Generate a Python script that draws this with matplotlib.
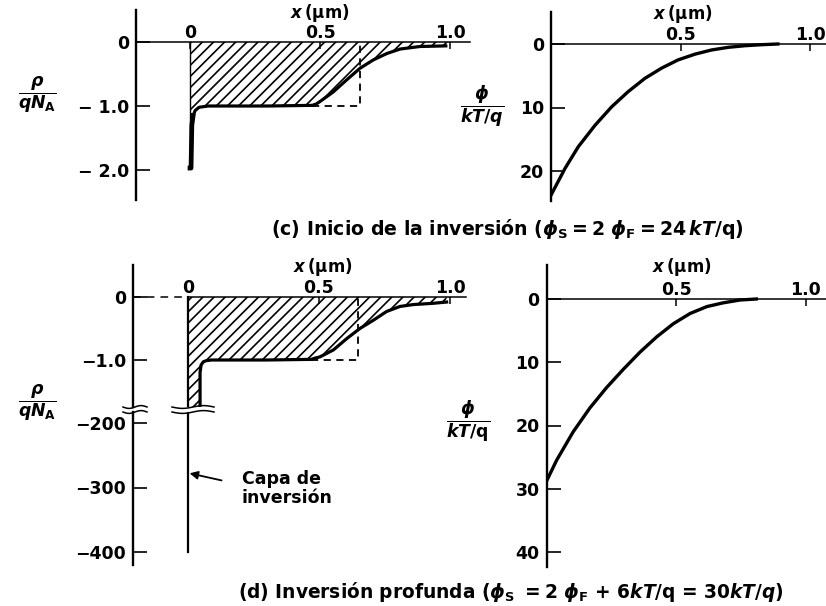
import numpy as np
import matplotlib
matplotlib.use("Agg")
import matplotlib.pyplot as plt
from matplotlib.lines import Line2D

plt.rcParams.update({
    "font.family": "DejaVu Sans",
    "font.weight": "bold",
    "mathtext.fontset": "custom",
    "mathtext.rm": "DejaVu Sans:bold",
    "mathtext.it": "DejaVu Sans:italic:bold",
    "mathtext.bf": "DejaVu Sans:bold",
    "mathtext.sf": "DejaVu Sans:bold",
    "hatch.linewidth": 1.2,
    "axes.linewidth": 1.7,
})

# ---------------- data ----------------
# (c) onset of inversion: normalized charge density rho/qN_A vs depth x (um)
x_rho_c = [0.0, 0.004, 0.007, 0.012, 0.02, 0.035, 0.07, 0.30, 0.47, 0.485, 0.50,
           0.551, 0.603, 0.654, 0.705, 0.757, 0.808, 0.885, 0.94, 0.99]
rho_c = [-1.97, -1.97, -1.30, -1.15, -1.07, -1.02, -1.0, -1.0, -0.99, -0.97, -0.93,
         -0.78, -0.59, -0.41, -0.28, -0.18, -0.11, -0.07, -0.065, -0.06]
w_dep_c = 0.654          # depletion-approximation edge (um)

# (c) normalized potential phi/(kT/q)
x_phi_c = [0.0, 0.054, 0.105, 0.17, 0.234, 0.298, 0.363, 0.427, 0.491, 0.556,
           0.62, 0.685, 0.749, 0.813, 0.876]
phi_c = [23.8, 19.6, 16.2, 12.8, 9.9, 7.5, 5.4, 3.8, 2.5, 1.6,
         0.94, 0.52, 0.27, 0.11, 0.0]

# (d) strong inversion: charge density (inversion layer off-scale near x = 0)
inv_layer_peak_d = -400.0
x_rho_d = [0.0, 0.046, 0.046, 0.05, 0.058, 0.07, 0.09, 0.30, 0.47, 0.485, 0.504,
           0.555, 0.606, 0.656, 0.707, 0.758, 0.809, 0.86, 0.936, 0.987]
rho_d = [inv_layer_peak_d, inv_layer_peak_d, -1.2, -1.08, -1.03, -1.01, -1.0, -1.0,
         -0.99, -0.97, -0.95, -0.84, -0.66, -0.50, -0.37, -0.23, -0.15, -0.12,
         -0.10, -0.08]
w_dep_d = 0.65

# (d) normalized potential
x_phi_d = [0.0, 0.039, 0.103, 0.168, 0.232, 0.297, 0.361, 0.425, 0.49, 0.554,
           0.619, 0.683, 0.747, 0.81]
phi_d = [28.8, 25.5, 21.0, 17.2, 14.0, 11.1, 8.4, 6.0, 3.9, 2.3,
         1.2, 0.6, 0.16, 0.0]

x_ticks_rho = [0.0, 0.5, 1.0]
x_labels_rho = ["0", "0.5", "1.0"]
x_ticks_phi = [0.5, 1.0]
x_labels_phi = ["0.5", "1.0"]

y_ticks_rho_c = [0.0, -1.0, -2.0]
y_labels_rho_c = ["0", "\u2212 1.0", "\u2212 2.0"]
y_ticks_phi_c = [0, 10, 20]
y_ticks_rho_d_top = [0.0, -1.0]
y_labels_rho_d_top = ["0", "\u22121.0"]
y_ticks_rho_d_bot = [-200, -300, -400]
y_labels_rho_d_bot = ["\u2212200", "\u2212300", "\u2212400"]
y_ticks_phi_d = [0, 10, 20, 30, 40]

caption_c = r"(c) Inicio de la inversión ($\phi_\mathrm{S} = 2\ \phi_\mathrm{F} = 24\,kT/$q)"
caption_d = (r"(d) Inversión profunda ($\phi_\mathrm{S}\ = 2\ \phi_\mathrm{F}$ + 6$kT$/q"
             r" = 30$kT/q$)")
x_label = r"$x\,$(μm)"
rho_label = r"$\dfrac{\rho}{qN_\mathrm{A}}$"
phi_label_c = r"$\dfrac{\phi}{kT/q}$"
phi_label_d = r"$\dfrac{\phi}{kT/\mathrm{q}}$"
inv_note = "Capa de\ninversión"

# ---------------- layout helpers (pixel geometry) ----------------
W, H = 826, 606
fig = plt.figure(figsize=(W / 100, H / 100), dpi=100)
FS = 12.5


def add_axes_px(x0, y0, x1, y1):
    return fig.add_axes([x0 / W, 1 - y1 / H, (x1 - x0) / W, (y1 - y0) / H])


def lims(p0, p1, origin_px, px_per_unit):
    return (p0 - origin_px) / px_per_unit, (p1 - origin_px) / px_per_unit


def style_axes(ax, xticks, xlabels, yticks, ylabels, show_x=True):
    for s in ("right", "bottom"):
        ax.spines[s].set_visible(False)
    if show_x:
        ax.spines["top"].set_position(("data", 0))
        ax.spines["top"].set_linewidth(1.1)
        ax.xaxis.set_ticks_position("top")
        ax.set_xticks(xticks)
        ax.set_xticklabels(xlabels, fontsize=FS, fontweight="bold")
        ax.tick_params(axis="x", direction="in", length=5, width=1.1, pad=0)
    else:
        ax.spines["top"].set_visible(False)
        ax.set_xticks([])
    ax.set_yticks(yticks)
    ax.set_yticklabels(ylabels, fontsize=FS, fontweight="bold")
    ax.tick_params(axis="y", direction="in", length=10, width=1.2, pad=5)
    ax.patch.set_alpha(0)


def px_text(x, y, s, **kw):
    fig.text(x / W, 1 - y / H, s, **kw)


def px_line(xs, ys, **kw):
    fig.add_artist(Line2D(np.asarray(xs) / W, 1 - np.asarray(ys) / H,
                          transform=fig.transFigure, color="black", **kw))


def break_mark(xc, yc, half):
    t = np.linspace(-1, 1, 40)
    px_line(xc + half * t, yc - 1.4 * np.sin(np.pi * t), lw=1.1)


# ---------------- (c) left: charge density ----------------
ax = add_axes_px(136, 10, 470, 200)
ax.set_xlim(*lims(136, 470, 190, 260))
ax.set_ylim(-(200 - 42) / 64, (42 - 10) / 64)
style_axes(ax, x_ticks_rho, x_labels_rho, y_ticks_rho_c, y_labels_rho_c)
ax.fill_between(x_rho_c, rho_c, 0, facecolor="none", edgecolor="black",
                hatch="///", linewidth=0)
ax.plot(x_rho_c, rho_c, color="black", lw=2.3, solid_capstyle="butt")
ax.plot(x_rho_c[:4], rho_c[:4], color="black", lw=3.4)
ax.plot([0, 0], [0, rho_c[0]], color="black", lw=1.0)
ax.plot([0.47, w_dep_c, w_dep_c], [-1.0, -1.0, 0.0], color="black", lw=1.3,
        ls=(0, (4, 3)))

# ---------------- (c) right: potential ----------------
ax = add_axes_px(551, 12, 826, 201)
ax.set_xlim(*lims(551, 826, 551, 259))
ax.set_ylim((201 - 44) / 6.35, -(44 - 12) / 6.35)
style_axes(ax, x_ticks_phi, x_labels_phi, y_ticks_phi_c,
           [str(v) for v in y_ticks_phi_c])
ax.plot(x_phi_c, phi_c, color="black", lw=2.4)

# ---------------- (d) left: charge density with broken axis ----------------
axt = add_axes_px(133, 265, 466, 407)
xl_d = lims(133, 466, 188, 262)
axt.set_xlim(*xl_d)
axt.set_ylim(-(407 - 297) / 63, (297 - 265) / 63)
style_axes(axt, x_ticks_rho, x_labels_rho, y_ticks_rho_d_top, y_labels_rho_d_top)
axt.spines["top"].set_bounds(0, xl_d[1])
axt.plot([xl_d[0], 0], [0, 0], color="black", lw=1.1, ls=(0, (5, 4)), clip_on=False)
axt.fill_between(x_rho_d, rho_d, 0, facecolor="none", edgecolor="black",
                 hatch="///", linewidth=0)
axt.plot(x_rho_d[1:], rho_d[1:], color="black", lw=2.3)
axt.plot([0, 0], [0, inv_layer_peak_d], color="black", lw=1.6)
axt.plot([0.47, w_dep_d, w_dep_d], [-1.0, -1.0, 0.0], color="black", lw=1.3,
         ls=(0, (4, 3)))

axb = add_axes_px(133, 412, 466, 565)
axb.set_xlim(*xl_d)
axb.set_ylim(-400 - (565 - 552) / 0.645, -200 + (423 - 412) / 0.645)
style_axes(axb, [], [], y_ticks_rho_d_bot, y_labels_rho_d_bot, show_x=False)
axb.plot([0, 0], [axb.get_ylim()[1], inv_layer_peak_d], color="black", lw=1.6)
axb.annotate("", xy=(0.006, -278), xytext=(0.128, -289),
             arrowprops=dict(arrowstyle="-|>", lw=1.3, color="black",
                             mutation_scale=12, shrinkA=0, shrinkB=0))
axb.text(0.206, -302, inv_note, fontsize=FS, fontweight="bold", ha="left",
         va="center", linespacing=1.05)

for yb in (407, 412):
    break_mark(135, yb, 12)
    break_mark(193, yb, 21)

# ---------------- (d) right: potential ----------------
ax = add_axes_px(546.5, 265, 826, 567)
ax.set_xlim(*lims(546.5, 826, 546.5, 259))
ax.set_ylim((567 - 299) / 6.325, -(299 - 265) / 6.325)
style_axes(ax, x_ticks_phi, x_labels_phi, y_ticks_phi_d,
           [str(v) for v in y_ticks_phi_d])
ax.plot(x_phi_d, phi_d, color="black", lw=2.4)

# ---------------- labels ----------------
for (x, y) in [(320, 13), (683, 14), (323, 267), (682, 267)]:
    px_text(x, y, x_label, fontsize=12, ha="center", va="center")
px_text(37, 95, rho_label, fontsize=12.5, ha="center", va="center")
px_text(37, 403, rho_label, fontsize=12.5, ha="center", va="center")
px_text(482, 106, phi_label_c, fontsize=12.5, ha="center", va="center")
px_text(468, 421, phi_label_d, fontsize=12.5, ha="center", va="center")
px_text(507, 229, caption_c, fontsize=13.6, ha="center", va="center")
px_text(511, 592, caption_d, fontsize=13.4, ha="center", va="center")

fig.savefig("out.png", dpi=100)
